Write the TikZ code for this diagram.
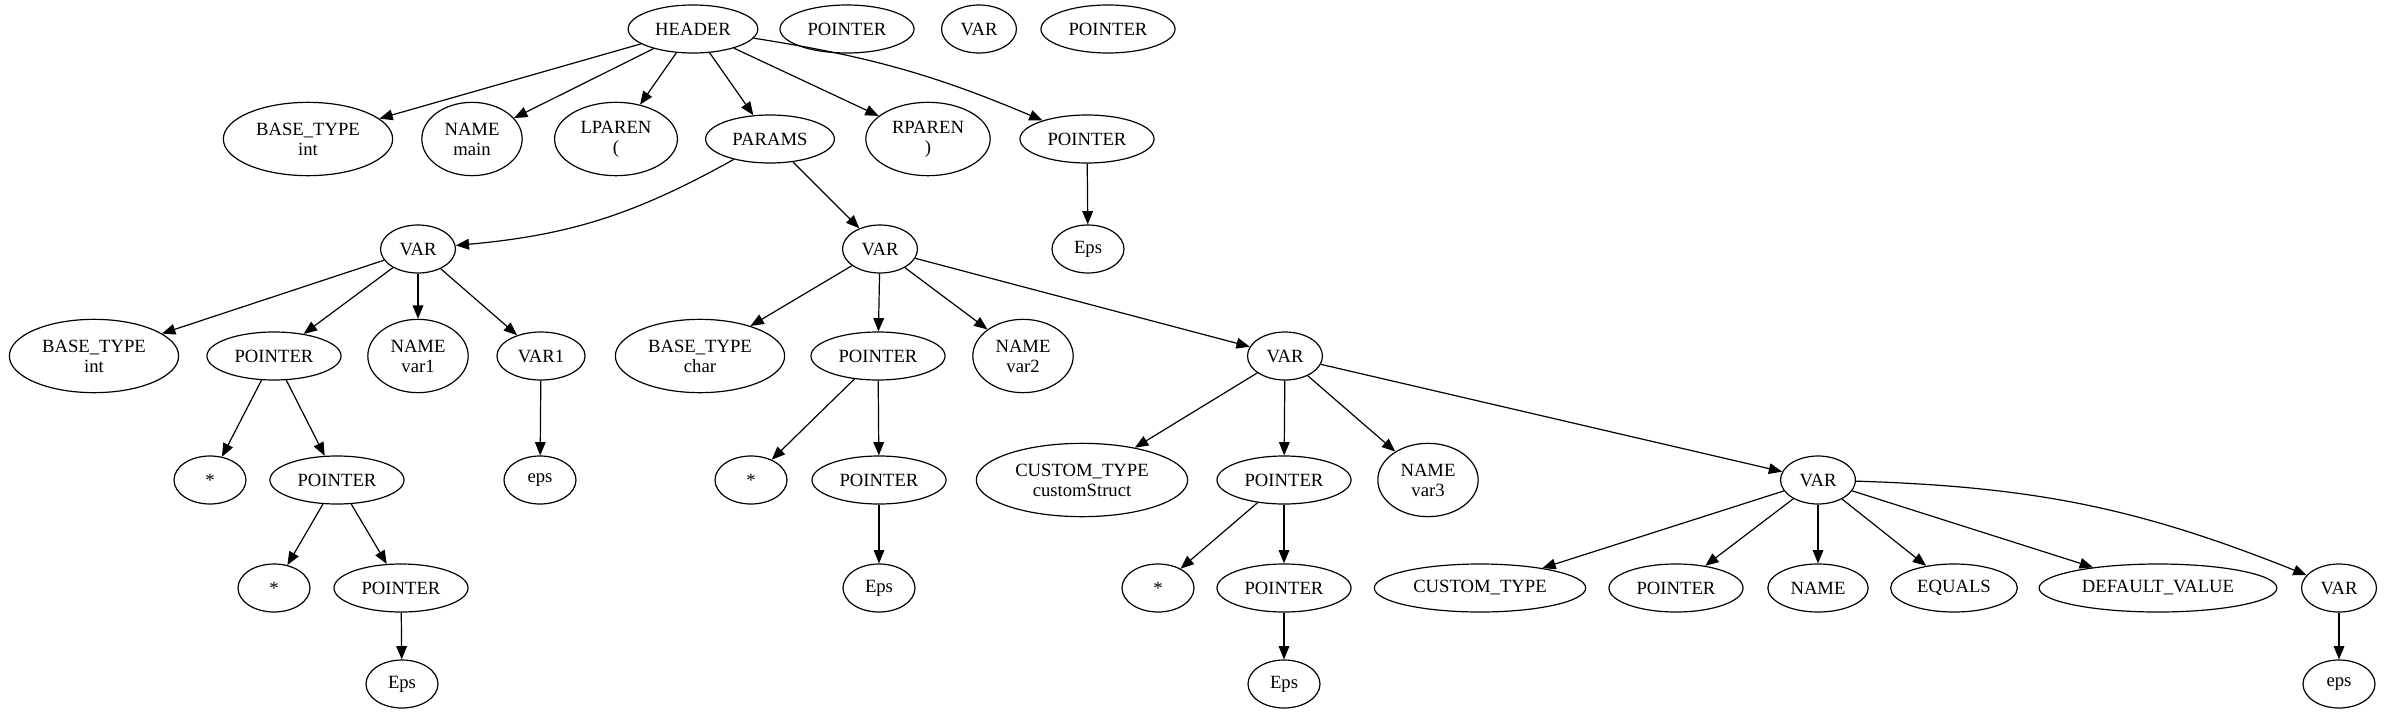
\documentclass[tikz,border=0pt]{standalone}
\usepackage{fontspec}
\setmainfont{Liberation Serif}
\usetikzlibrary{shapes.geometric,arrows.meta}

\begin{document}
\begin{tikzpicture}[
    x=0.75pt, y=-0.75pt,
    tok/.style={draw, ellipse, line width=0.9pt, inner xsep=6pt, inner ysep=2pt,
        minimum width=54pt, minimum height=36pt, align=center,
        font=\rmfamily\fontsize{14}{15}\selectfont},
    tok2/.style={tok, minimum height=55pt},
    edge/.style={line width=0.9pt, -{Triangle[length=10pt,width=8pt]}}
]
\useasboundingbox (0,0) rectangle (2385,714);

% Root and loose nodes
\node[tok] (header) at (693,29) {HEADER};
\node[tok] (isoptra) at (847,29) {POINTER};
\node[tok] (isovar) at (979,29) {VAR};
\node[tok] (isoptrb) at (1108,29) {POINTER};

% Header parts
\node[tok2] (bt0) at (308,139) {BASE\_TYPE\\int};
\node[tok2] (nm0) at (472,139) {NAME\\main};
\node[tok2] (lp) at (616,139) {LPAREN\\(};
\node[tok] (params) at (770,139) {PARAMS};
\node[tok2] (rp) at (928,139) {RPAREN\\)};
\node[tok] (ptrh) at (1087,139) {POINTER};
\node[tok] (epsh) at (1088,249) {Eps};

% First parameter
\node[tok] (vara) at (418,249) {VAR};
\node[tok2] (bt1) at (94,356) {BASE\_TYPE\\int};
\node[tok] (pa1) at (274,356) {POINTER};
\node[tok2] (nm1) at (418,356) {NAME\\var1};
\node[tok] (var1) at (541,356) {VAR1};
\node[tok] (sa1) at (210,480) {*};
\node[tok] (pa2) at (337,480) {POINTER};
\node[tok] (eps1) at (540,480) {eps};
\node[tok] (sa2) at (274,588) {*};
\node[tok] (pa3) at (401,588) {POINTER};
\node[tok] (epsa) at (402,684) {Eps};

% Second parameter
\node[tok] (varb) at (880,249) {VAR};
\node[tok2] (bt2) at (700,356) {BASE\_TYPE\\char};
\node[tok] (pb1) at (878,356) {POINTER};
\node[tok2] (nm2) at (1023,356) {NAME\\var2};
\node[tok] (sb1) at (751,480) {*};
\node[tok] (pb2) at (879,480) {POINTER};
\node[tok] (epsb) at (879,588) {Eps};

% Third parameter
\node[tok] (varc) at (1285,356) {VAR};
\node[tok2] (ct1) at (1082,480) {CUSTOM\_TYPE\\customStruct};
\node[tok] (pc1) at (1284,480) {POINTER};
\node[tok2] (nm3) at (1428,480) {NAME\\var3};
\node[tok] (sc1) at (1158,588) {*};
\node[tok] (pc2) at (1284,588) {POINTER};
\node[tok] (epsc) at (1284,684) {Eps};

% Fourth parameter
\node[tok] (vard) at (1818,480) {VAR};
\node[tok] (ct2) at (1480,588) {CUSTOM\_TYPE};
\node[tok] (pd) at (1676,588) {POINTER};
\node[tok] (nm4) at (1818,588) {NAME};
\node[tok] (eq) at (1954,588) {EQUALS};
\node[tok] (dv) at (2158,588) {DEFAULT\_VALUE};
\node[tok] (vare) at (2339,588) {VAR};
\node[tok] (epse) at (2339,684) {eps};

% Edges
\draw[edge] (header) -- (bt0);
\draw[edge] (header) -- (nm0);
\draw[edge] (header) -- (lp);
\draw[edge] (header) -- (params);
\draw[edge] (header) -- (rp);
\draw[edge] (header) to[bend left=7] (ptrh);
\draw[edge] (ptrh) -- (epsh);
\draw[edge] (params) to[bend left=12] (vara);
\draw[edge] (params) -- (varb);

\draw[edge] (vara) -- (bt1);
\draw[edge] (vara) -- (pa1);
\draw[edge] (vara) -- (nm1);
\draw[edge] (vara) -- (var1);
\draw[edge] (pa1) -- (sa1);
\draw[edge] (pa1) -- (pa2);
\draw[edge] (pa2) -- (sa2);
\draw[edge] (pa2) -- (pa3);
\draw[edge] (pa3) -- (epsa);
\draw[edge] (var1) -- (eps1);

\draw[edge] (varb) -- (bt2);
\draw[edge] (varb) -- (pb1);
\draw[edge] (varb) -- (nm2);
\draw[edge] (varb) -- (varc);
\draw[edge] (pb1) -- (sb1);
\draw[edge] (pb1) -- (pb2);
\draw[edge] (pb2) -- (epsb);

\draw[edge] (varc) -- (ct1);
\draw[edge] (varc) -- (pc1);
\draw[edge] (varc) -- (nm3);
\draw[edge] (varc) -- (vard);
\draw[edge] (pc1) -- (sc1);
\draw[edge] (pc1) -- (pc2);
\draw[edge] (pc2) -- (epsc);

\draw[edge] (vard) -- (ct2);
\draw[edge] (vard) -- (pd);
\draw[edge] (vard) -- (nm4);
\draw[edge] (vard) -- (eq);
\draw[edge] (vard) -- (dv);
\draw[edge] (vard) to[bend left=10] (vare);
\draw[edge] (vare) -- (epse);

\end{tikzpicture}
\end{document}
